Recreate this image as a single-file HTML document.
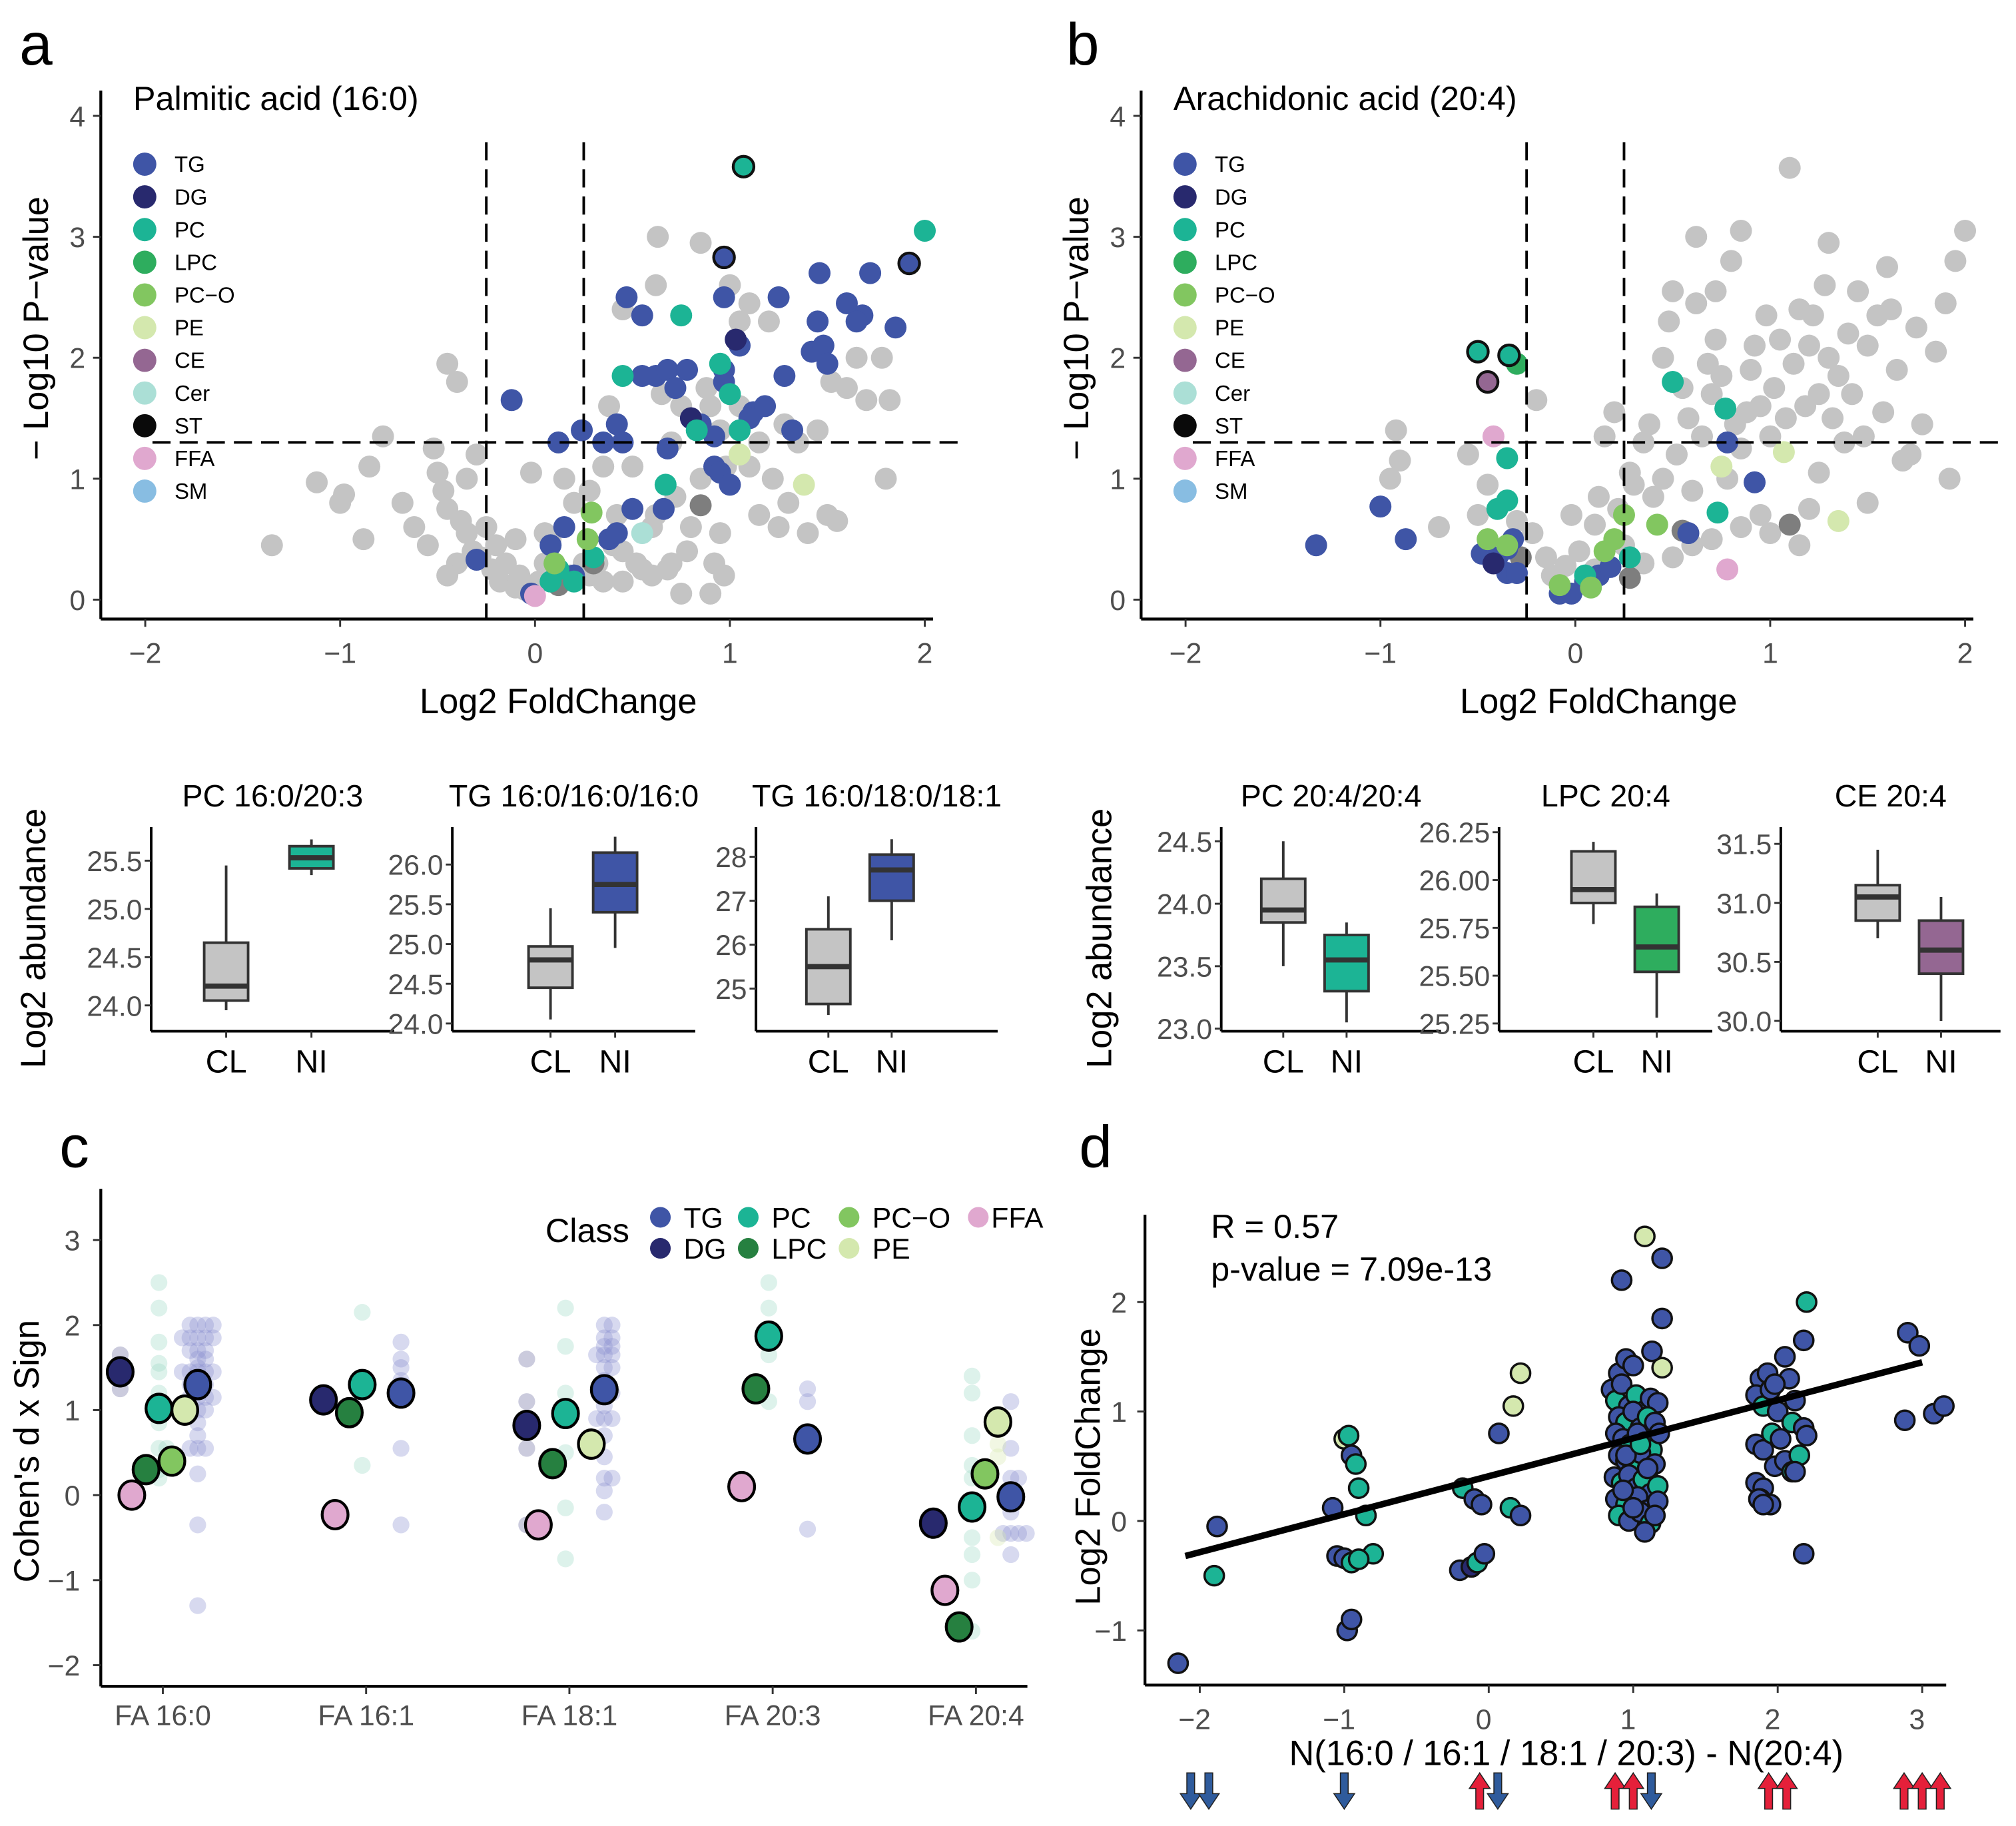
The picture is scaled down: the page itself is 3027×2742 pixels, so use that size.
<!DOCTYPE html>
<html><head><meta charset="utf-8">
<style>
html,body{margin:0;padding:0;background:#fff;}
svg{display:block;font-family:"Liberation Sans",Arial,sans-serif;}
.tick{fill:#4d4d4d;font-size:22px;}
</style></head>
<body>
<svg id="fig" width="3027" height="2742" viewBox="0 0 1560 1413" xmlns="http://www.w3.org/2000/svg">
<text x="15" y="50" font-size="46">a</text>
<text x="825" y="50" font-size="46">b</text>
<text x="46" y="903" font-size="46">c</text>
<text x="835" y="903" font-size="46">d</text>
</svg>
<script>
const NS="http://www.w3.org/2000/svg";
const svg=document.getElementById('fig');
function mk(tag,attrs,parent){const e=document.createElementNS(NS,tag);for(const k in attrs)e.setAttribute(k,attrs[k]);(parent||svg).appendChild(e);return e;}
function txt(s,attrs,parent){const e=mk('text',attrs,parent);e.textContent=s;return e;}
const COL={TG:'#3F55A6',DG:'#28296E',PC:'#1CB495',LPC:'#2EAD5E',PCO:'#82C660',PE:'#D4E8AE',CE:'#946792',Cer:'#ABDFD6',ST:'#0a0a0a',FFA:'#E0A8CF',SM:'#88BDE2',GR:'#C4C4C4',DK:'#7E7E7E',LPCd:'#268040'};

/* ---------------- Volcano data ---------------- */
const volcA_gray=[[-1.35,0.45],[-1.12,0.97],[-1.0,0.8],[-0.98,0.87],[-0.88,0.5],[-0.85,1.1],[-0.78,1.35],[-0.68,0.8],[-0.62,0.6],[-0.55,0.45],[-0.5,1.05],[-0.52,1.25],[-0.47,0.9],[-0.45,0.75],[-0.45,1.95],[-0.4,1.8],[-0.38,0.65],[-0.35,0.55],[-0.32,0.4],[-0.28,0.35],[-0.25,0.6],[-0.22,0.25],[-0.2,0.45],[-0.18,0.15],[-0.15,0.3],[-0.1,0.1],[-0.08,0.2],[-0.05,0.08],[0.02,0.15],[0.05,0.3],[0.08,0.5],[0.18,0.2],[0.25,0.3],[0.28,0.9],[0.32,0.3],[0.35,1.1],[0.38,1.6],[0.35,0.15],[0.42,0.7],[0.45,0.4],[0.5,1.1],[0.55,0.25],[0.6,0.6],[0.62,0.7],[0.65,1.7],[0.7,0.3],[0.72,0.85],[0.75,1.6],[0.78,0.4],[0.8,0.6],[0.85,1.0],[0.88,1.75],[0.9,1.6],[0.92,0.3],[0.95,0.55],[0.98,1.1],[1.0,2.6],[1.05,2.3],[1.1,2.45],[1.15,0.7],[1.2,2.3],[1.22,1.0],[1.28,1.45],[1.3,0.8],[1.35,1.3],[1.4,0.55],[1.45,1.4],[1.5,0.7],[1.52,1.8],[1.55,0.65],[1.6,1.75],[1.65,2.0],[1.7,1.65],[1.82,1.65],[1.8,1.0],[1.78,2.0],[0.62,2.6],[0.85,2.95],[0.63,3.0],[0.45,2.4],[-0.02,1.05],[0.15,1.0],[0.2,0.8],[0.45,0.15],[0.52,0.3],[0.75,0.05],[0.68,0.25],[1.1,1.1],[1.15,1.3],[0.95,1.4],[1.25,0.6],[0.9,0.05],[0.6,0.2],[0.05,0.55],[-0.1,0.5],[-0.3,1.2],[-0.4,0.3],[0.28,0.2],[0.97,0.2],[-0.35,1.0],[-0.45,0.2],[0.4,0.45],[0.7,1.3],[1.05,1.6]];
const volcA_col=[
['DK',0.85,0.78],['DK',0.12,0.12],['DK',0.3,0.3],
['TG',-0.3,0.33],['TG',-0.12,1.65],['TG',0.12,1.3],['TG',0.24,1.4],['TG',0.47,2.5],['TG',0.55,2.35],['TG',0.55,1.85],['TG',0.62,1.85],['TG',0.68,1.9],['TG',0.72,1.75],['TG',0.78,1.9],['TG',0.97,1.9],['TG',0.97,1.8],['TG',0.85,1.45],['TG',0.92,1.35],['TG',0.97,2.5],['TG',1.05,2.1],['TG',1.12,1.55],['TG',1.18,1.6],['TG',1.25,2.5],['TG',1.32,1.4],['TG',1.28,1.85],['TG',1.42,2.05],['TG',1.48,2.1],['TG',1.46,2.7],['TG',1.6,2.45],['TG',1.68,2.35],['TG',1.72,2.7],['TG',1.85,2.25],['TG',1.65,2.3],['TG',1.45,2.3],['TG',0.42,1.45],['TG',0.45,1.3],['TG',0.68,1.25],['TG',0.92,1.1],['TG',0.95,1.05],['TG',1.0,0.95],['TG',0.5,0.75],['TG',0.66,0.75],['TG',0.15,0.6],['TG',0.08,0.45],['TG',0.38,0.5],['TG',0.42,0.55],['TG',0.2,0.2],['TG',-0.02,0.05],['TG',0.35,1.3],['TG',1.1,1.5],['TG',1.5,1.95],
['DG',0.8,1.5],['DG',1.03,2.15],
['PC',0.75,2.35],['PC',0.45,1.85],['PC',0.95,1.95],['PC',1.0,1.7],['PC',0.83,1.4],['PC',1.05,1.4],['PC',0.67,0.95],['PC',0.3,0.35],['PC',0.12,0.25],['PC',0.2,0.15],['PC',2.0,3.05],['PC',0.08,0.15],
['PCO',0.29,0.72],['PCO',0.27,0.5],['PCO',0.1,0.3],
['PE',1.05,1.2],['PE',1.38,0.95],
['Cer',0.55,0.55],['FFA',0.0,0.03]];
const volcA_out=[['PC',1.07,3.58],['TG',0.97,2.83],['TG',1.92,2.78]];

const volcB_gray=[[-0.95,1.0],[-0.9,1.15],[-0.92,1.4],[-0.55,1.2],[-0.5,0.7],[-0.45,0.95],[-0.3,0.65],[-0.22,0.55],[-0.15,0.35],[-0.12,0.2],[-0.05,0.28],[0.02,0.4],[0.1,0.62],[0.12,0.85],[0.15,1.35],[0.2,1.55],[0.22,0.75],[0.28,1.05],[0.3,0.95],[0.35,1.3],[0.38,1.45],[0.4,0.85],[0.45,1.0],[0.48,2.3],[0.5,2.55],[0.52,1.2],[0.55,1.75],[0.58,1.5],[0.6,0.9],[0.62,2.45],[0.65,1.35],[0.68,1.95],[0.7,1.7],[0.72,2.15],[0.75,1.85],[0.78,1.0],[0.8,2.8],[0.82,1.45],[0.85,1.25],[0.88,1.55],[0.9,1.9],[0.92,2.1],[0.95,1.6],[0.98,2.35],[1.0,1.35],[1.02,1.75],[1.05,2.15],[1.08,1.5],[1.1,3.57],[1.12,1.95],[1.15,2.4],[1.18,1.6],[1.2,2.1],[1.22,2.35],[1.25,1.7],[1.28,2.6],[1.3,2.0],[1.32,1.5],[1.35,1.85],[1.4,2.2],[1.42,1.7],[1.45,2.55],[1.48,1.35],[1.5,2.1],[1.55,2.35],[1.58,1.55],[1.6,2.75],[1.62,2.4],[1.65,1.9],[1.68,1.15],[1.72,1.2],[1.75,2.25],[1.78,1.45],[1.85,2.05],[1.9,2.45],[1.92,1.0],[1.95,2.8],[2.0,3.05],[0.45,2.0],[0.62,3.0],[0.85,3.05],[1.3,2.95],[0.72,2.55],[0.6,0.45],[0.7,0.5],[0.95,0.7],[1.2,0.75],[0.35,0.3],[0.5,0.35],[-0.02,0.7],[0.1,0.25],[0.85,0.6],[1.25,1.05],[1.5,0.8],[1.15,0.45],[-0.7,0.6],[-0.2,1.65],[0.25,0.45],[1.38,1.3],[1.0,0.55]];
const volcB_col=[
['DK',-0.28,0.35],['DK',0.28,0.18],['DK',1.1,0.62],['DK',0.55,0.57],
['TG',-1.33,0.45],['TG',-1.0,0.77],['TG',-0.87,0.5],['TG',-0.48,0.38],['TG',-0.4,0.35],['TG',-0.35,0.42],['TG',-0.35,0.22],['TG',-0.3,0.22],['TG',-0.08,0.05],['TG',-0.02,0.05],['TG',0.05,0.15],['TG',0.12,0.2],['TG',0.18,0.27],['TG',0.58,0.55],['TG',0.78,1.3],['TG',0.92,0.97],['TG',-0.32,0.5],
['DG',-0.42,0.3],
['PC',-0.35,1.17],['PC',-0.35,0.82],['PC',-0.4,0.75],['PC',0.05,0.2],['PC',0.28,0.35],['PC',0.5,1.8],['PC',0.77,1.58],['PC',0.73,0.72],
['LPC',-0.3,1.95],
['PCO',-0.45,0.5],['PCO',-0.35,0.45],['PCO',0.15,0.4],['PCO',0.2,0.5],['PCO',0.25,0.7],['PCO',0.42,0.62],['PCO',-0.08,0.12],['PCO',0.08,0.1],
['PE',0.75,1.1],['PE',1.07,1.22],['PE',1.35,0.65],
['FFA',-0.42,1.35],['FFA',0.78,0.25]];
const volcB_out=[['PC',-0.5,2.05],['PC',-0.34,2.02],['CE',-0.45,1.8]];
const volcXTicks=[-2,-1,0,1,2];
const volcYTicks=[0,1,2,3,4];
const legendClasses=['TG','DG','PC','LPC','PC−O','PE','CE','Cer','ST','FFA','SM'];
const legendKeys=['TG','DG','PC','LPC','PCO','PE','CE','Cer','ST','FFA','SM'];

function volcano(ox,title,gray,col,out,tag){
  const g=mk('g',{});
  
  
  const x0=ox+336, xs=150.8, y0=464, ys=93.6;
  const X=v=>x0+v*xs, Y=v=>y0-v*ys;
  mk('line',{x1:ox,y1:70,x2:ox,y2:479,stroke:'#000','stroke-width':2.2},g);
  mk('line',{x1:ox,y1:479,x2:ox+644,y2:479,stroke:'#000','stroke-width':2.2},g);
  volcXTicks.forEach(t=>{mk('line',{x1:X(t),y1:479,x2:X(t),y2:485,stroke:'#333','stroke-width':1.5},g);
    const e=txt(t<0?'−'+(-t):''+t,{x:X(t),y:513,'text-anchor':'middle',class:'tick'},g);});
  volcYTicks.forEach(t=>{mk('line',{x1:ox-6,y1:Y(t),x2:ox,y2:Y(t),stroke:'#333','stroke-width':1.5},g);
    const e=txt(''+t,{x:ox-12,y:Y(t)+8,'text-anchor':'end',class:'tick'},g);});
  const points=mk('g',{},g);
  gray.forEach(p=>{const c=mk('circle',{cx:X(p[0]),cy:Y(p[1]),r:8.5,fill:COL.GR},points);});
  col.forEach(p=>{const c=mk('circle',{cx:X(p[1]),cy:Y(p[2]),r:8.5,fill:COL[p[0]]},points);});
  out.forEach(p=>{const c=mk('circle',{cx:X(p[1]),cy:Y(p[2]),r:8,fill:COL[p[0]],stroke:'#111','stroke-width':2.2},points);});
  mk('line',{x1:X(-0.25),y1:110,x2:X(-0.25),y2:479,stroke:'#000','stroke-width':2,'stroke-dasharray':'14,7'},g);
  mk('line',{x1:X(0.25),y1:110,x2:X(0.25),y2:479,stroke:'#000','stroke-width':2,'stroke-dasharray':'14,7'},g);
  mk('line',{x1:ox+40,y1:Y(1.3),x2:ox+670,y2:Y(1.3),stroke:'#000','stroke-width':2,'stroke-dasharray':'14,7'},g);
  const tt=txt(title,{x:ox+25,y:85,'font-size':26},g);
  const xt=txt('Log2 FoldChange',{x:ox+354,y:552,'text-anchor':'middle','font-size':27},g);
  const yt=txt('− Log10 P−value',{x:0,y:0,'text-anchor':'middle','font-size':27,transform:`translate(${ox-41},254) rotate(-90)`},g);
  legendClasses.forEach((n,i)=>{const y=127+i*25.3;
    const c=mk('circle',{cx:ox+34,cy:y,r:9,fill:COL[legendKeys[i]]},g);
    const t=txt(n,{x:ox+57,y:y+6,'font-size':17},g);});
}
volcano(78,'Palmitic acid (16:0)',volcA_gray,volcA_col,volcA_out,'a');
volcano(883,'Arachidonic acid (20:4)',volcB_gray,volcB_col,volcB_out,'b');

/* ---------------- Box plots ---------------- */
const boxTitles=['PC 16:0/20:3','TG 16:0/16:0/16:0','TG 16:0/18:0/18:1','PC 20:4/20:4','LPC 20:4','CE 20:4'];
const boxCL=[[23.95,24.05,24.2,24.65,25.45],[24.05,24.45,24.8,24.97,25.45],[24.4,24.65,25.5,26.35,27.1],[23.5,23.85,23.95,24.2,24.5],[25.77,25.88,25.95,26.15,26.2],[30.7,30.85,31.05,31.15,31.45]];
const boxNI=[[25.35,25.42,25.53,25.65,25.72],[24.95,25.4,25.75,26.15,26.35],[26.1,27.0,27.7,28.05,28.4],[23.05,23.3,23.55,23.75,23.85],[25.28,25.52,25.65,25.86,25.93],[30.0,30.4,30.6,30.85,31.05]];
const boxTicks=[[24.0,24.5,25.0,25.5],[24.0,24.5,25.0,25.5,26.0],[25,26,27,28],[23.0,23.5,24.0,24.5],[25.25,25.5,25.75,26.0,26.25],[30.0,30.5,31.0,31.5]];
const boxTickLabels=[['24.0','24.5','25.0','25.5'],['24.0','24.5','25.0','25.5','26.0'],['25','26','27','28'],['23.0','23.5','24.0','24.5'],['25.25','25.50','25.75','26.00','26.25'],['30.0','30.5','31.0','31.5']];
const boxNIColor=['PC','TG','TG','PC','LPC','CE'];
const boxLayout=[{ax:117,w:188,cl:175,ni:241,v0:24.0,p0:778,v1:25.5,p1:666},
{ax:350,w:188,cl:426,ni:476,v0:24.0,p0:792,v1:26.0,p1:669},
{ax:585,w:187,cl:641,ni:690,v0:25,p0:765,v1:28,p1:663},
{ax:945,w:170,cl:993,ni:1042,v0:23.0,p0:796,v1:24.5,p1:651},
{ax:1160,w:165,cl:1233,ni:1282,v0:25.25,p0:792,v1:26.25,p1:644},
{ax:1378,w:170,cl:1453,ni:1502,v0:30.0,p0:790,v1:31.5,p1:653}];
boxTitles.forEach((title,i)=>{
  const L=boxLayout[i];const g=mk('g',{});
  
  
  const Y=v=>L.p0+(v-L.v0)*(L.p1-L.p0)/(L.v1-L.v0);
  mk('line',{x1:L.ax,y1:640,x2:L.ax,y2:798,stroke:'#000','stroke-width':2},g);
  mk('line',{x1:L.ax,y1:798,x2:L.ax+L.w,y2:798,stroke:'#000','stroke-width':2},g);
  boxTicks[i].forEach((t,k)=>{mk('line',{x1:L.ax-5,y1:Y(t),x2:L.ax,y2:Y(t),stroke:'#333','stroke-width':1.5},g);
    const e=txt(boxTickLabels[i][k],{x:L.ax-7,y:Y(t)+8,'text-anchor':'end',class:'tick'},g);});
  [['CL',L.cl,boxCL[i],COL.GR],['NI',L.ni,boxNI[i],COL[boxNIColor[i]]]].forEach(([lab,cx,b,fill])=>{
    mk('line',{x1:cx,y1:Y(b[0]),x2:cx,y2:Y(b[4]),stroke:'#333','stroke-width':2},g);
    const r=mk('rect',{x:cx-17,y:Y(b[3]),width:34,height:Y(b[1])-Y(b[3]),fill:fill,stroke:'#333','stroke-width':2},g);
    
    mk('line',{x1:cx-17,y1:Y(b[2]),x2:cx+17,y2:Y(b[2]),stroke:'#333','stroke-width':4},g);
    mk('line',{x1:cx,y1:798,x2:cx,y2:803,stroke:'#333','stroke-width':1.5},g);
    const t=txt(lab,{x:cx,y:830,'text-anchor':'middle','font-size':25},g);
  });
  const tt=txt(title,{x:L.ax+L.w/2,y:624,'text-anchor':'middle','font-size':24},g);
});
[[28,'a'],[853,'b']].forEach(([x,tag])=>{const t=txt('Log2 abundance',{x:0,y:0,'text-anchor':'middle','font-size':27,transform:`translate(${x+7},726) rotate(-90)`});});

/* ---------------- Panel c ---------------- */
const cCats=['FA 16:0','FA 16:1','FA 18:1','FA 20:3','FA 20:4'];
const cClasses=['DG','FFA','LPC','PC','PCO','PE','TG'];
const cClassOffset={DG:-33,FFA:-24,LPC:-13,PC:-3,PCO:7,PE:17,TG:27};
const cSummary=[[0,'DG',1.45],[0,'FFA',0.0],[0,'LPC',0.3],[0,'PC',1.02],[0,'PCO',0.4],[0,'PE',1.0],[0,'TG',1.3],
[1,'DG',1.12],[1,'FFA',-0.23],[1,'LPC',0.97],[1,'PC',1.3],[1,'TG',1.2],
[2,'DG',0.82],[2,'FFA',-0.35],[2,'LPC',0.37],[2,'PC',0.96],[2,'PE',0.6],[2,'TG',1.24],
[3,'FFA',0.1],[3,'LPC',1.25],[3,'PC',1.87],[3,'TG',0.66],
[4,'DG',-0.33],[4,'FFA',-1.12],[4,'LPC',-1.55],[4,'PC',-0.14],[4,'PCO',0.25],[4,'PE',0.86],[4,'TG',-0.02]];
const cTG0=[2.0,2.0,2.0,2.0,1.85,1.85,1.85,1.85,1.85,1.7,1.7,1.7,1.6,1.6,1.5,1.45,1.45,1.45,1.45,1.45,1.3,1.3,1.3,1.15,1.15,1.15,1.15,1.0,1.0,0.85,0.7,0.55,0.55,0.55,0.25,-0.35,-1.3];
const cPC0=[2.5,2.2,1.8,1.55,1.45,1.2,1.05,0.85,0.55,0.55,0.3,0.2];
const cDG0=[1.65,1.25];
const cTG1=[1.8,1.6,1.5,1.35,1.3,1.2,0.55,-0.35];
const cPC1=[2.15,0.35];
const cTG2=[2.0,2.0,1.85,1.85,1.75,1.75,1.65,1.65,1.65,1.5,1.5,1.35,1.2,1.2,1.05,0.9,0.9,0.9,0.7,0.45,0.2,0.2,0.05,-0.2];
const cPC2=[2.2,1.75,1.2,0.5,-0.15,-0.75];
const cDG2=[1.6,1.1,0.55,-0.35];
const cTG3=[1.25,1.1,-0.4];
const cPC3=[2.5,2.2,1.65,1.1];
const cTG4=[1.1,0.55,0.2,0.2,0.05,-0.2,-0.45,-0.45,-0.45,-0.45,-0.7];
const cPC4=[1.4,1.2,0.7,0.35,0.2,-0.5,-0.7,-1.0,-1.6];
const cPE4=[0.6,0.45,-0.5];
const cFaint=[[0,'TG',cTG0],[0,'PC',cPC0],[0,'DG',cDG0],[1,'TG',cTG1],[1,'PC',cPC1],[2,'TG',cTG2],[2,'PC',cPC2],[2,'DG',cDG2],[3,'TG',cTG3],[3,'PC',cPC3],[4,'TG',cTG4],[4,'PC',cPC4],[4,'PE',cPE4]];
const cYTicks=[-2,-1,0,1,2,3];
(function(){
  const g=mk('g',{});
  
  
  const cx0=126,cdx=157.3,y0=1157,ys=65.8;
  const X=i=>cx0+i*cdx, Y=v=>y0-v*ys;
  mk('line',{x1:78,y1:920,x2:78,y2:1305,stroke:'#000','stroke-width':2.2},g);
  mk('line',{x1:78,y1:1305,x2:795,y2:1305,stroke:'#000','stroke-width':2.2},g);
  cYTicks.forEach(t=>{mk('line',{x1:72,y1:Y(t),x2:78,y2:Y(t),stroke:'#333','stroke-width':1.5},g);
    const e=txt(t<0?'−'+(-t):''+t,{x:62,y:Y(t)+8,'text-anchor':'end',class:'tick'},g);});
  cCats.forEach((c,i)=>{mk('line',{x1:X(i),y1:1305,x2:X(i),y2:1311,stroke:'#333','stroke-width':1.5},g);
    const e=txt(c,{x:X(i),y:1335,'text-anchor':'middle',class:'tick','font-size':25},g);});
  const fcol={TG:'#8B93D0',PC:'#9ED9C6',DG:'#6B6A9E',PE:'#D8E8B0'};
  cFaint.forEach(([ci,cls,vals])=>{
    const seen={};
    vals.forEach(v=>{const k=v.toFixed(2);seen[k]=(seen[k]||0);const n=seen[k]++;
      const off=(n%2?1:-1)*Math.ceil(n/2)*6;
      const c=mk('circle',{cx:X(ci)+cClassOffset[cls]+off,cy:Y(v),r:6.5,fill:fcol[cls],'fill-opacity':0.35},g);
      });
  });
  const scol={DG:COL.DG,FFA:COL.FFA,LPC:COL.LPCd,PC:COL.PC,PCO:COL.PCO,PE:COL.PE,TG:COL.TG};
  cSummary.forEach(([ci,cls,v])=>{const c=mk('ellipse',{cx:X(ci)+cClassOffset[cls],cy:Y(v),rx:10,ry:11,fill:scol[cls],stroke:'#000','stroke-width':2.2},g);
    });
  const yt=txt("Cohen's d x Sign",{x:0,y:0,'text-anchor':'middle','font-size':27,transform:'translate(30,1123) rotate(-90)'},g);
  const lt=txt('Class',{x:422,y:961,'font-size':26},g);
  [['TG',511,942,'TG'],['PC',579,942,'PC'],['PC−O',657,942,'PCO'],['FFA',757,942,'FFA'],['DG',511,966,'DG'],['LPC',579,966,'LPC'],['PE',657,966,'PE']].forEach(([n,x,y,k])=>{
    const c=mk('circle',{cx:x,cy:y,r:8,fill:scol[k]},g);
    const t=txt(n,{x:x+(k==='FFA'?10:18),y:y+8,'font-size':22},g);});
})();

/* ---------------- Panel d ---------------- */
const dX=[-2.15,-1.88,-1.9,-1.08,-1.05,-1.0,-0.95,-0.98,-0.95,-1.0,-0.97,-0.95,-0.92,-0.9,-0.85,-0.8,-0.9,-0.18,-0.1,-0.05,-0.2,-0.12,-0.08,-0.03,0.07,0.15,0.22,0.17,0.22,
0.92,1.08,1.2,1.2,1.2,1.13,0.9,0.95,1.0,0.85,0.88,0.92,0.97,1.02,1.07,1.12,1.17,0.9,0.95,1.0,1.05,1.1,1.15,0.88,0.93,0.98,1.03,1.08,1.13,1.18,0.9,0.95,1.0,1.05,1.1,1.15,0.87,0.92,0.97,1.02,1.07,1.12,1.17,0.88,0.95,1.03,1.1,1.17,0.9,0.97,1.05,1.12,0.93,1.0,1.08,1.15,0.95,1.05,1.1,
1.88,1.93,2.2,2.05,2.18,1.85,1.9,1.95,2.0,2.08,2.12,1.85,1.9,1.96,2.02,2.1,2.18,1.85,1.9,1.98,2.05,2.15,1.88,1.95,2.1,1.87,1.9,2.18,2.12,1.98,2.2,
2.9,2.98,2.88,3.08,3.15];
const dY=[-1.3,-0.05,-0.5,0.12,-0.32,-0.34,-0.38,-1.0,-0.9,0.75,0.78,0.6,0.52,0.3,0.05,-0.3,-0.35,0.3,0.2,0.15,-0.45,-0.42,-0.38,-0.3,0.8,0.12,0.05,1.05,1.35,
2.2,2.6,2.4,1.85,1.4,1.55,1.35,1.48,1.42,1.2,1.1,1.25,1.05,1.15,1.0,1.12,1.08,0.95,0.9,1.0,0.85,0.95,0.9,0.8,0.75,0.7,0.8,0.72,0.65,0.8,0.6,0.55,0.5,0.62,0.45,0.52,0.4,0.35,0.42,0.3,0.38,0.25,0.32,0.2,0.15,0.22,0.1,0.18,0.05,0.0,0.08,-0.02,0.28,0.12,-0.1,0.05,0.6,0.7,0.48,
1.3,1.35,2.0,1.5,1.65,1.15,1.05,1.2,1.0,1.3,1.1,0.7,0.65,0.8,0.75,0.9,0.85,0.35,0.3,0.5,0.55,0.6,0.2,0.15,0.45,0.2,0.15,-0.3,0.45,1.25,0.78,
1.72,1.6,0.92,0.98,1.05];
const dClass=['TG','TG','PC','TG','TG','TG','PC','TG','TG','PE','PC','TG','PC','PC','PC','PC','PC','PC','TG','TG','TG','DG','PC','TG','TG','PC','TG','PE','PE',
'TG','PE','TG','TG','PE','TG','TG','TG','TG','TG','PC','TG','TG','PC','TG','TG','TG','TG','PC','TG','TG','PC','TG','TG','TG','PC','TG','TG','PC','TG','TG','TG','PC','TG','TG','TG','TG','PC','TG','TG','PC','TG','PC','TG','PC','TG','TG','TG','PC','TG','TG','PC','TG','TG','TG','TG','TG','PC','TG',
'TG','TG','PC','TG','TG','TG','PC','TG','TG','TG','TG','TG','TG','PC','TG','PC','TG','TG','TG','TG','TG','PC','TG','TG','PC','TG','TG','TG','TG','TG','TG',
'TG','TG','TG','TG','TG'];
const dXTicks=[-2,-1,0,1,2,3];
const dYTicks=[-1,0,1,2];
const dFit=[-2.1,-0.32,3.0,1.45];
const dArrowUp=[0,0,1,2,2,3];
const dArrowDown=[2,1,1,1,0,0];
(function(){
  const g=mk('g',{});
  
  
  const x0=1152,xs=111.8,y0=1177,ys=84.7;
  const X=v=>x0+v*xs,Y=v=>y0-v*ys;
  mk('line',{x1:886,y1:940,x2:886,y2:1304,stroke:'#000','stroke-width':2.2},g);
  mk('line',{x1:886,y1:1304,x2:1506,y2:1304,stroke:'#000','stroke-width':2.2},g);
  dXTicks.forEach(t=>{mk('line',{x1:X(t),y1:1304,x2:X(t),y2:1310,stroke:'#333','stroke-width':1.5},g);
    const e=txt(t<0?'−'+(-t):''+t,{x:X(t)-4,y:1338,'text-anchor':'middle',class:'tick'},g);});
  dYTicks.forEach(t=>{mk('line',{x1:880,y1:Y(t),x2:886,y2:Y(t),stroke:'#333','stroke-width':1.5},g);
    const e=txt(t<0?'−'+(-t):''+t,{x:872,y:Y(t)+8,'text-anchor':'end',class:'tick'},g);});
  dX.forEach((x,i)=>{const c=mk('circle',{cx:X(x),cy:Y(dY[i]),r:7.5,fill:COL[dClass[i]],stroke:'#111','stroke-width':1.8},g);
    });
  const ln=mk('line',{x1:X(dFit[0]),y1:Y(dFit[1]),x2:X(dFit[2]),y2:Y(dFit[3]),stroke:'#000','stroke-width':5},g);
  
  const r=txt('R = 0.57',{x:937,y:958,'font-size':26},g);
  const p=txt('p-value = 7.09e-13',{x:937,y:991,'font-size':26},g);
  const xt=txt('N(16:0 / 16:1 / 18:1 / 20:3) - N(20:4)',{x:1212,y:1366,'text-anchor':'middle','font-size':27},g);
  const yt=txt('Log2 FoldChange',{x:0,y:0,'text-anchor':'middle','font-size':27,transform:'translate(851,1135) rotate(-90)'},g);
  dXTicks.forEach((t,i)=>{
    const n=dArrowUp[i]+dArrowDown[i];let x=X(t)-(n-1)*7;
    for(let k=0;k<n;k++){const up=k<dArrowUp[i];const cx=x+k*14;
      const pts=up?`${cx-3},1400 ${cx+3},1400 ${cx+3},1384 ${cx+8},1384 ${cx},1372 ${cx-8},1384 ${cx-3},1384`
                   :`${cx-3},1372 ${cx+3},1372 ${cx+3},1388 ${cx+8},1388 ${cx},1400 ${cx-8},1388 ${cx-3},1388`;
      const a=mk('polygon',{points:pts,fill:up?'#E5203A':'#2F5B9C',stroke:'#222','stroke-width':0.8},g);
      }
  });
})();
</script>
</body></html>
